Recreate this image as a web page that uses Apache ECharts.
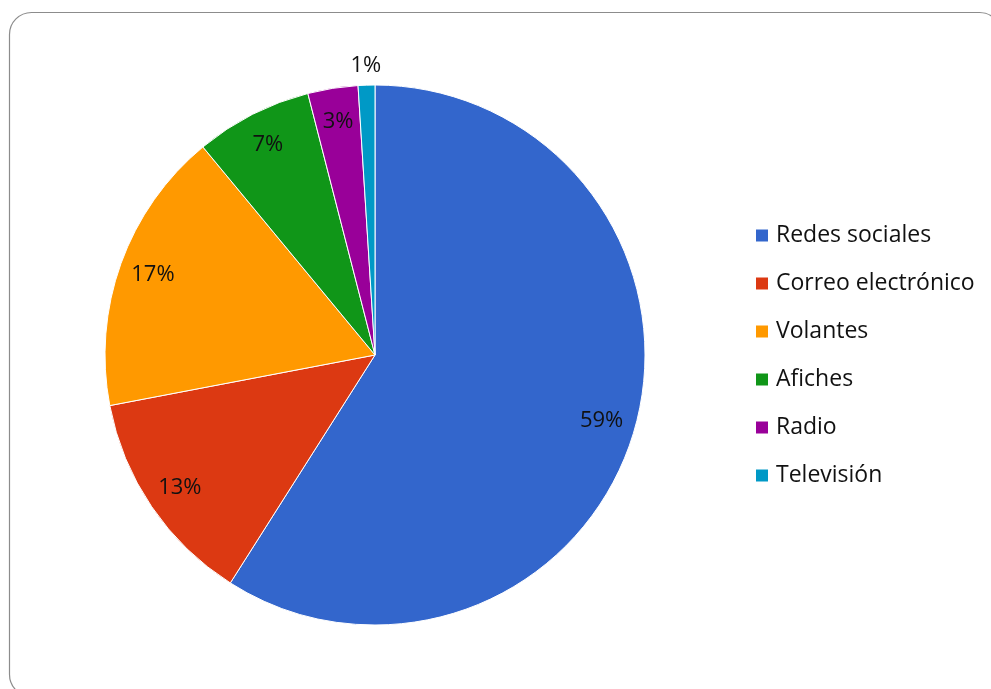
<!DOCTYPE html>
<html>
<head>
<meta charset="utf-8">
<script src="https://cdn.jsdelivr.net/npm/echarts@6/dist/echarts.min.js"></script>
<style>
  html, body { margin: 0; padding: 0; background: #fff; }
  #chart { width: 991px; height: 689px; }
</style>
</head>
<body>
<div id="chart"></div>
<script>
// Medios de difusión (porcentaje de respuestas)
const categories = ['Redes sociales', 'Correo electrónico', 'Volantes', 'Afiches', 'Radio', 'Televisión'];
const values = [59, 13, 17, 7, 3, 1];
const colors = ['#3366CC', '#DC3912', '#FF9900', '#109618', '#990099', '#0099C6'];

const FONT = '"Open Sans", "Liberation Sans", sans-serif';
const CX = 375, CY = 355, R = 270;

const chart = echarts.init(document.getElementById('chart'), null, { renderer: 'canvas' });

const sliceData = categories.map((name, i) => ({
  name, value: values[i], itemStyle: { color: colors[i] }
}));

// Labels placed inside the slices, on a transparent ring near the rim
const innerLabelData = categories.map((name, i) => ({
  name, value: values[i],
  label: { show: values[i] >= 2 }
}));

// Labels for very thin slices sit just outside the rim
const outerLabelData = categories.map((name, i) => ({
  name, value: values[i],
  label: { show: values[i] < 2 }
}));

const labelStyle = {
  position: 'inside',
  formatter: p => p.value + '%',
  color: '#111',
  fontFamily: FONT,
  fontSize: 22
};

chart.setOption({
  animation: false,
  backgroundColor: '#fff',
  color: colors,
  graphic: [{
    type: 'rect',
    shape: { x: 9.5, y: 12.5, width: 992, height: 684, r: 22 },
    style: { fill: 'none', stroke: '#8c8c8c', lineWidth: 1.2 },
    silent: true,
    z: -10
  }],
  legend: {
    orient: 'vertical',
    left: 749,
    top: 219,
    data: categories,
    icon: 'rect',
    itemWidth: 14,
    itemHeight: 14,
    itemGap: 25,
    textStyle: { fontFamily: FONT, fontSize: 23, color: '#111', lineHeight: 22, padding: [0, 0, 0, 2] },
    selectedMode: false
  },
  series: [
    {
      type: 'pie',
      center: [CX, CY],
      radius: [0, R],
      startAngle: 90,
      clockwise: true,
      data: sliceData,
      label: { show: false },
      labelLine: { show: false },
      itemStyle: { borderColor: '#fff', borderWidth: 1 },
      silent: true
    },
    {
      type: 'pie',
      center: [CX, CY],
      radius: [196, R],
      startAngle: 90,
      clockwise: true,
      data: innerLabelData,
      itemStyle: { color: 'rgba(0,0,0,0)' },
      label: labelStyle,
      labelLine: { show: false },
      silent: true,
      z: 5
    },
    {
      type: 'pie',
      center: [CX, CY],
      radius: [R, 302],
      startAngle: 90,
      clockwise: true,
      data: outerLabelData,
      itemStyle: { color: 'rgba(0,0,0,0)' },
      label: labelStyle,
      labelLine: { show: false },
      silent: true,
      z: 5
    }
  ]
});
</script>
</body>
</html>
